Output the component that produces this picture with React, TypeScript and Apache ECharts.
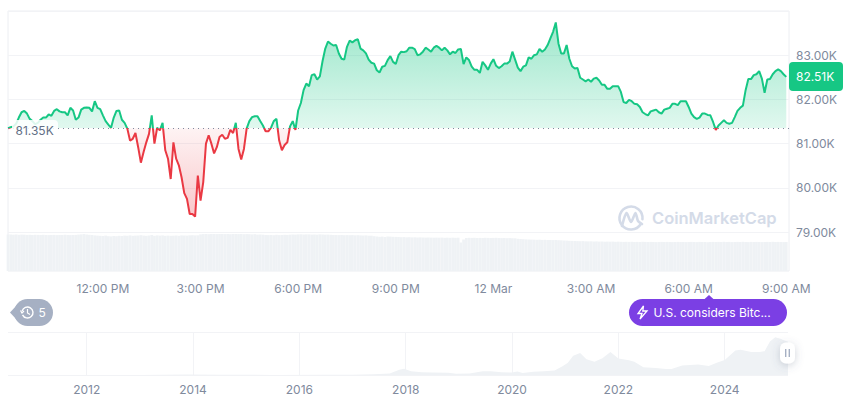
import React, { useEffect, useRef } from "react";
import * as echarts from "echarts";

const FONT = "Inter, 'Noto Sans', sans-serif";
const GREEN = "#16c784";
const RED = "#ea3943";
const BASE = 81.35;
const PRICE_AXIS_VALUES = [79, 80, 81, 82, 83];
const GRID_VALUES = [79, 80, 81, 82, 83, 84];
const HOUR_SLOT = 36;
const FIRST_LABEL_SLOT = 35;
const YEAR_TICKS = [2012, 2014, 2016, 2018, 2020, 2022, 2024];

const prices = [
  81.35, 81.37, 81.39, 81.45, 81.59, 81.71, 81.74, 81.68, 81.56, 81.51, 81.44, 81.47, 81.54, 81.59, 81.59, 81.66,
  81.63, 81.74, 81.78, 81.73, 81.71, 81.71, 81.64, 81.81, 81.75, 81.54, 81.59, 81.77, 81.81, 81.82, 81.81, 81.73,
  81.96, 81.81, 81.78, 81.64, 81.51, 81.43, 81.36, 81.59, 81.74, 81.75, 81.54, 81.47, 81.34, 81.07, 81.11, 81.24,
  80.92, 80.57, 80.81, 81.03, 81.22, 81.64, 81.0, 81.36, 81.3, 81.47, 80.85, 80.66, 80.2, 81.03, 80.66, 80.51,
  80.24, 79.88, 79.75, 79.41, 79.41, 79.35, 80.28, 79.71, 80.13, 81.0, 81.19, 81.0, 80.78, 80.92, 81.15, 81.2,
  81.11, 81.13, 81.31, 81.24, 81.47, 80.88, 80.64, 80.88, 81.34, 81.51, 81.6, 81.62, 81.62, 81.51, 81.41, 81.28,
  81.28, 81.36, 81.51, 81.56, 81.07, 80.85, 80.97, 81.03, 81.39, 81.51, 81.31, 81.75, 81.92, 82.21, 82.36, 82.3,
  82.55, 82.57, 82.45, 82.52, 82.87, 83.15, 83.31, 83.26, 83.22, 83.23, 83.04, 82.92, 82.9, 83.19, 83.33, 83.29,
  83.34, 83.36, 83.15, 83.11, 83.04, 82.9, 82.83, 82.81, 82.66, 82.61, 82.74, 82.76, 82.89, 82.98, 82.85, 82.8,
  83.0, 83.08, 83.07, 83.09, 83.17, 83.17, 83.14, 83.0, 83.02, 83.08, 83.17, 83.13, 83.08, 83.17, 83.21, 83.17,
  83.11, 83.17, 83.11, 83.02, 83.08, 83.05, 83.13, 83.14, 82.8, 82.95, 82.89, 82.74, 82.67, 82.67, 82.6, 82.85,
  82.77, 82.67, 82.81, 82.91, 82.76, 82.71, 82.75, 82.81, 82.81, 82.86, 83.08, 82.9, 82.72, 82.64, 82.74, 82.77,
  82.95, 82.92, 83.0, 83.02, 83.14, 83.08, 83.13, 83.23, 83.38, 83.53, 83.74, 83.26, 83.04, 83.04, 83.23, 82.92,
  82.75, 82.7, 82.71, 82.49, 82.45, 82.41, 82.45, 82.4, 82.47, 82.49, 82.43, 82.33, 82.33, 82.24, 82.24, 82.3,
  82.3, 82.3, 82.17, 81.94, 81.92, 81.99, 81.96, 81.9, 81.89, 81.83, 81.71, 81.67, 81.64, 81.73, 81.75, 81.77,
  81.71, 81.68, 81.77, 81.79, 81.81, 81.9, 81.9, 81.87, 81.96, 81.96, 81.96, 81.83, 81.68, 81.6, 81.56, 81.59,
  81.68, 81.68, 81.65, 81.64, 81.49, 81.31, 81.41, 81.47, 81.53, 81.47, 81.45, 81.47, 81.6, 81.74, 81.81, 81.86,
  82.21, 82.46, 82.46, 82.55, 82.57, 82.64, 82.47, 82.15, 82.45, 82.46, 82.57, 82.64, 82.68, 82.64, 82.57, 82.51,
];

const volumes = [
  36.5, 36.5, 36.3, 36.5, 36.2, 36.4, 36.3, 36.1, 36.2, 36, 36.2, 36.1, 36, 36.2, 36, 35.9,
  36, 36.1, 35.9, 36, 36, 36.2, 36, 35.9, 36, 36.1, 36.4, 36.6, 36.9, 36.5, 36.2, 36, 35.6, 35.4,
  35.2, 35, 35.4, 34.8, 34.6, 35, 34.8, 35.2, 35, 35.4, 35.3, 35.6, 35.2, 35.4, 35.5, 35.8, 35.4, 35.2, 35.5,
  36, 35.2, 35.6, 35.4, 35.6, 35.2, 35.4, 35.2, 35.3, 35.5, 35.2, 35.6, 35.5, 35.4, 35.7, 35.8, 35.6, 35.7,
  36.6, 36.9, 37, 36.8, 37, 37, 36.9, 37, 37, 36.9, 37, 36.8, 37, 37, 36.9, 37, 36.8, 36.9, 36.8, 36.6,
  36.8, 36.4, 36.5, 36.3, 36, 35.9, 36, 35.8, 36.2, 35.9, 36, 36.2, 36.1, 36.3, 36.5, 36.4, 36.6, 36.7, 36.5,
  36.6, 36.6, 36.4, 36.5, 36.3, 36.6, 36.5, 36.3, 36.4, 36.2, 36, 36, 35.9, 36, 35.8, 35.9, 35.8, 35.9, 35.7,
  35.8, 35.6, 35.5, 35.6, 35.3, 35.3, 34.8, 34.5, 34.2, 34.4, 34, 34.5, 34.4, 34.2, 34.1, 34, 33.8, 33.9, 33.7,
  33.8, 33.6, 33.7, 33.5, 33.6, 33.5, 33.4, 33.5, 33.4, 33.3, 33.4, 33.3, 33.4, 33.2, 33.3, 33.2, 33.3, 33.2, 33.3,
  28.5, 31.5, 33, 33.2, 33.1, 33.2, 33, 33.1, 33, 33.2, 33.1, 33, 33.1, 33.2, 33, 32.9, 33, 32.8, 32.9, 32.8, 32.7,
  32.2, 32, 31.8, 31.6, 31.5, 31.4, 31.3, 31.2, 31.3, 31.1, 31.2, 31, 31, 30.9, 31, 30.8, 30.7, 30.5, 30.4, 30.2,
  30.1, 30, 29.9, 29.8, 29.9, 29.7, 29.6, 29.7, 29.5, 29.6, 29.4, 29.5, 29.3, 29.4, 29.3, 29.4, 29.2, 29.3, 29.2, 29.1,
  29.2, 29.1, 29.2, 29, 29.1, 29, 29.2, 29.1, 29, 29.1, 29, 28.9, 29, 29.1, 29, 29.1, 29, 28.9, 29, 29.1, 29, 29, 28.9, 29,
  29.1, 29, 28.9, 29.1, 29, 29, 28.8, 29, 29.1, 29,
  29.1, 29, 29.2, 29, 29.1, 28.9, 29, 29.1, 29, 29.2, 29, 28.9, 29.1, 29, 29.1, 29, 28.9, 29, 29.1, 29, 29.2, 29, 29.1, 29, 28.9, 29,
];

const historyYears = [
  2010.52, 2013, 2013.9, 2014.5, 2015.5, 2016.5, 2017, 2017.4, 2017.7, 2017.88, 2017.97, 2018.1, 2018.3, 2018.5, 2018.8,
  2018.95, 2019.2, 2019.45, 2019.6, 2019.8, 2020, 2020.1, 2020.2, 2020.4, 2020.6, 2020.8, 2020.95, 2021.05, 2021.15,
  2021.28, 2021.4, 2021.55, 2021.7, 2021.85, 2022, 2022.2, 2022.3, 2022.47, 2022.7, 2022.9, 2023, 2023.2, 2023.5,
  2023.7, 2023.85, 2024, 2024.2, 2024.3, 2024.5, 2024.66, 2024.75, 2024.85, 2024.95, 2025.05, 2025.1, 2025.19,
];
const historyPrices = [
  0, 0.1, 1.1, 0.5, 0.3, 0.6, 1, 2.5, 4.5, 15, 18, 11, 8, 7, 6.3,
  3.5, 4, 11, 10.5, 8, 7.2, 10, 6, 9.5, 11, 13, 25, 35, 55,
  63, 45, 38, 48, 66, 47, 42, 38, 22, 20, 17, 17, 27, 30,
  26, 35, 43, 70, 72, 66, 66, 68, 96, 108, 104, 100, 95,
];

const slotLabel = (i: number) => {
  const minutes = 9 * 60 + 5 + i * 5;
  const m = minutes % (24 * 60);
  if (m === 0) return "12 Mar";
  const h24 = Math.floor(m / 60);
  const h = h24 % 12 === 0 ? 12 : h24 % 12;
  return `${h}:${String(m % 60).padStart(2, "0")} ${h24 < 12 ? "AM" : "PM"}`;
};
const categories = Array.from({ length: prices.length + 1 }, (_, i) => slotLabel(i));

export default function App() {
  const ref = useRef<HTMLDivElement>(null);
  useEffect(() => {
    const chart = echarts.init(ref.current!, undefined, { renderer: "svg" });
    const LOGO = "#d4dbe8";
    chart.setOption({
      animation: false,
      textStyle: { fontFamily: FONT },
      grid: [
        { left: 8, right: 71, top: 11, height: 260, show: true, borderColor: "#eceef2", borderWidth: 1, backgroundColor: "transparent" },
        { left: 8, right: 72, top: 332, height: 43 },
      ],
      visualMap: {
        show: false,
        type: "piecewise",
        seriesIndex: 1,
        dimension: 1,
        pieces: [
          { min: 70, max: BASE, color: RED },
          { min: BASE, max: 95, color: GREEN },
        ],
      },
      xAxis: [
        {
          type: "category",
          gridIndex: 0,
          data: categories,
          boundaryGap: false,
          axisLine: { show: false },
          axisTick: { show: false },
          splitLine: { show: false },
          axisLabel: {
            margin: 11,
            color: "#808a9d",
            fontSize: 12,
            fontFamily: FONT,
            hideOverlap: false,
            interval: (i: number) => i >= FIRST_LABEL_SLOT && (i - FIRST_LABEL_SLOT) % HOUR_SLOT === 0,
          },
        },
        {
          type: "value",
          gridIndex: 1,
          min: 2010.52,
          max: 2025.19,
          axisLine: { show: false },
          axisTick: { show: false, customValues: YEAR_TICKS },
          splitLine: { show: true, lineStyle: { color: "#f2f3f6", width: 1 } },
          axisLabel: {
            margin: 8,
            color: "#808a9d",
            fontSize: 12,
            fontFamily: FONT,
            customValues: YEAR_TICKS,
            formatter: (v: number) => String(v),
          },
        },
      ],
      yAxis: [
        {
          type: "value",
          gridIndex: 0,
          position: "right",
          min: 78.12,
          max: 84,
          axisLine: { show: false },
          axisTick: { show: false, customValues: GRID_VALUES },
          splitLine: { show: true, lineStyle: { color: "#f2f3f6", width: 1 } },
          axisLabel: {
            margin: 7,
            color: "#808a9d",
            fontSize: 12,
            fontFamily: FONT,
            customValues: PRICE_AXIS_VALUES,
            formatter: (v: number) => `${v.toFixed(2)}K`,
          },
        },
        { type: "value", gridIndex: 0, min: 0, max: 260, show: false, splitLine: { show: false } },
        {
          type: "value",
          gridIndex: 1,
          min: 0,
          max: 123,
          interval: 123,
          axisLine: { show: false },
          axisTick: { show: false },
          axisLabel: { show: false },
          splitLine: { show: true, lineStyle: { color: "#f2f3f6", width: 1 } },
        },
      ],
      series: [
        {
          name: "Volume",
          type: "bar",
          xAxisIndex: 0,
          yAxisIndex: 1,
          data: volumes,
          barWidth: 2.7,
          silent: true,
          itemStyle: { color: "#eff2f5" },
          z: 1,
        },
        {
          name: "Price",
          type: "line",
          xAxisIndex: 0,
          yAxisIndex: 0,
          data: prices,
          showSymbol: false,
          smooth: false,
          lineStyle: { width: 2 },
          areaStyle: {
            origin: BASE,
            opacity: 1,
            color: new echarts.graphic.LinearGradient(0, 0, 0, 1, [
              { offset: 0, color: "rgba(22,199,132,0.42)" },
              { offset: 0.544, color: "rgba(22,199,132,0.13)" },
              { offset: 0.544, color: "rgba(234,57,67,0.06)" },
              { offset: 1, color: "rgba(234,57,67,0.28)" },
            ]),
          },
          markLine: {
            silent: true,
            symbol: ["none", "none"],
            label: { show: false },
            lineStyle: { type: [1, 4], color: "#808a9d", width: 1 },
            data: [{ yAxis: BASE }],
          },
          z: 3,
        },
        {
          name: "History",
          type: "line",
          xAxisIndex: 1,
          yAxisIndex: 2,
          data: historyYears.map((y, i) => [y, historyPrices[i]]),
          showSymbol: false,
          lineStyle: { width: 0, color: "#eff2f5" },
          itemStyle: { color: "#eff2f5" },
          areaStyle: { color: "#eff2f5", opacity: 1 },
          z: 2,
        },
      ],
      graphic: [
        { type: "rect", z: 50, shape: { x: 12, y: 120, width: 46, height: 18, r: 4 }, style: { fill: "rgba(255,255,255,0.85)" } },
        { type: "text", z: 51, x: 15.5, y: 124, style: { text: "81.35K", fill: "#616e85", font: `12px ${FONT}` } },
        { type: "rect", z: 50, shape: { x: 789, y: 62, width: 54, height: 29, r: 4 }, style: { fill: GREEN } },
        { type: "text", z: 51, x: 796, y: 70.5, style: { text: "82.51K", fill: "#ffffff", font: `12px ${FONT}` } },
        // watermark
        { type: "arc", z: 5, shape: { cx: 631, cy: 218, r: 11.5, startAngle: 0.55, endAngle: Math.PI * 2 + 0.1 }, style: { stroke: LOGO, lineWidth: 2.6, fill: "none", lineCap: "round" } },
        { type: "polyline", z: 5, shape: { points: [[622, 226], [626.5, 213], [631, 222], [635.5, 213], [638, 221], [642, 224]], smooth: 0.25 }, style: { stroke: LOGO, lineWidth: 2.6, fill: "none", lineCap: "round" } },
        { type: "text", z: 5, x: 652, y: 209.5, style: { text: "CoinMarketCap", fill: "#d4dbe8", font: `600 16.5px ${FONT}` } },
        // history tag
        { type: "polygon", z: 10, shape: { points: [[10, 312.5], [17, 305], [17, 320]] }, style: { fill: "#a6b0c3" } },
        { type: "rect", z: 10, shape: { x: 14, y: 299, width: 39, height: 27, r: 13.5 }, style: { fill: "#a6b0c3" } },
        { type: "arc", z: 11, shape: { cx: 27.5, cy: 312.5, r: 5.5, startAngle: -2.9, endAngle: 2.7 }, style: { stroke: "#fff", lineWidth: 1.4, fill: "none" } },
        { type: "polyline", z: 11, shape: { points: [[27.5, 309], [27.5, 313], [30, 314.5]] }, style: { stroke: "#fff", lineWidth: 1.2, fill: "none" } },
        { type: "polyline", z: 11, shape: { points: [[20.5, 310.5], [22, 313], [24, 311]] }, style: { stroke: "#fff", lineWidth: 1.2, fill: "none" } },
        { type: "text", z: 11, x: 38.5, y: 306.5, style: { text: "5", fill: "#ffffff", font: `12px ${FONT}` } },
        // news tag
        { type: "polygon", z: 10, shape: { points: [[709, 295], [703.5, 300], [714.5, 300]] }, style: { fill: "#7b3fe4" } },
        { type: "rect", z: 10, shape: { x: 629, y: 299, width: 158, height: 27, r: 13.5 }, style: { fill: "#7b3fe4" } },
        { type: "polygon", z: 11, shape: { points: [[643.5, 306], [638, 313.5], [642, 313.5], [640, 319], [647, 311], [642.8, 311]] }, style: { stroke: "#fff", lineWidth: 1.3, fill: "none" } },
        { type: "text", z: 11, x: 653.5, y: 306.5, style: { text: "U.S. considers Bitc...", fill: "#ffffff", font: `12px ${FONT}` } },
        // range handle
        { type: "rect", z: 20, shape: { x: 780, y: 342.5, width: 15, height: 21, r: 6 }, style: { fill: "#ffffff", shadowBlur: 8, shadowColor: "rgba(88,102,126,0.28)", shadowOffsetY: 2 } },
        { type: "rect", z: 21, shape: { x: 785, y: 349, width: 1.4, height: 8 }, style: { fill: "#a6b0c3" } },
        { type: "rect", z: 21, shape: { x: 788.6, y: 349, width: 1.4, height: 8 }, style: { fill: "#a6b0c3" } },
      ],
    });
    return () => chart.dispose();
  }, []);
  return <div ref={ref} style={{ position: "absolute", left: 0, top: 0, width: 860, height: 401, background: "#fff" }} />;
}
